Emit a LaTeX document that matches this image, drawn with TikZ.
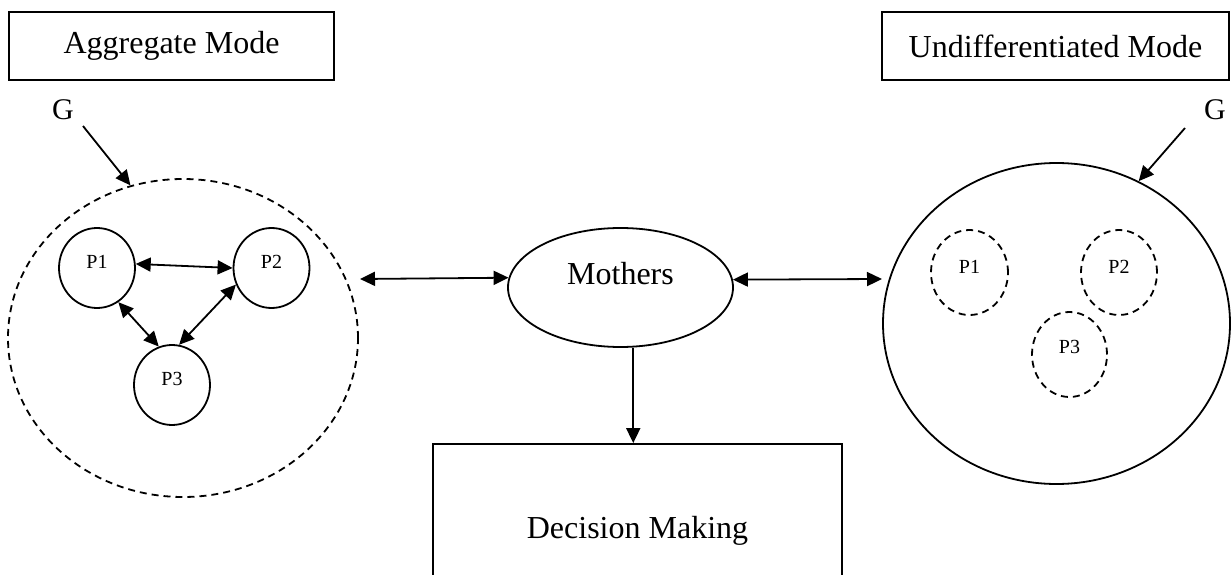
\documentclass[tikz,border=0pt]{standalone}
\usepackage{fontspec}
\setmainfont{Liberation Serif}
\usetikzlibrary{shapes.geometric,arrows.meta}
\tikzset{
  base/.style={line width=1.8pt},
  tip/.style={-{Triangle[length=15pt,width=14pt]}},
  dbl/.style={{Triangle[length=15pt,width=14pt]}-{Triangle[length=15pt,width=14pt]}},
  big/.style={font=\fontsize{32}{36}\selectfont},
  small/.style={font=\fontsize{20}{24}\selectfont},
  modebox/.style={draw, base, rectangle, inner sep=0pt, big},
  dashpat/.style={dash pattern=on 7pt off 5pt},
  pcirc/.style={draw, base, ellipse, inner sep=0pt, small, text depth=12pt, minimum width=76pt, minimum height=80pt},
}
\begin{document}
\begin{tikzpicture}[x=1pt,y=-1pt]
\useasboundingbox (0,0) rectangle (1231,575);
% mode boxes
\node[modebox, minimum width=325pt, minimum height=68pt] (aggbox) at (171.5,46) {Aggregate Mode};
\node[modebox, minimum width=347pt, minimum height=68pt] (undbox) at (1055.5,46) {Undifferentiated Mode};
% G labels
\node[font=\fontsize{30}{34}\selectfont] (gl) at (63,110) {G};
\node[font=\fontsize{30}{34}\selectfont] (gr) at (1215,110) {G};
\coordinate (gls) at (83,126);
\coordinate (grs) at (1185,128);
% left group (dashed)
\node[draw, base, dashpat, ellipse, inner sep=0pt, minimum width=350pt, minimum height=318pt] (aggL) at (183,338) {};
\node[pcirc] (lp1) at (97,268) {P1};
\node[pcirc] (lp2) at (271.5,268) {P2};
\node[pcirc] (lp3) at (172,385) {P3};
% right group
\node[draw, base, ellipse, inner sep=0pt, minimum width=347pt, minimum height=321pt] (undR) at (1056.5,323.5) {};
\node[pcirc, dashpat, minimum width=77pt, minimum height=85pt] (rp1) at (969.5,272.5) {P1};
\node[pcirc, dashpat, minimum width=76pt, minimum height=85pt] (rp2) at (1119,272.5) {P2};
\node[pcirc, dashpat, minimum width=75pt, minimum height=85pt, text depth=15pt] (rp3) at (1069.5,354.5) {P3};
% Mothers
\node[draw, base, ellipse, inner sep=0pt, big, text depth=27.6pt, minimum width=225pt, minimum height=119pt] (m) at (620.5,287.5) {Mothers};
% Decision Making
\node[draw, base, rectangle, inner sep=0pt, big, minimum width=409pt, minimum height=174pt] (dm) at (637.5,531) {Decision Making};
% connectors
\coordinate (la) at (360,279);
\coordinate (ra) at (882,279);
\draw[base, tip] (gls) -- (aggL.109);
\draw[base, tip] (grs) -- (undR.60);
\draw[base, dbl] (lp1.6) -- (lp2.180);
\draw[base, dbl] (lp1.-58) -- (lp3.109);
\draw[base, dbl] (lp2.205) -- (lp3.80);
\draw[base, dbl] (la) -- (m.175.6);
\draw[base, dbl] (m.4.4) -- (ra);
\draw[base, tip] (m.-78) -- (m.-78 |- dm.north);
\end{tikzpicture}
\end{document}
